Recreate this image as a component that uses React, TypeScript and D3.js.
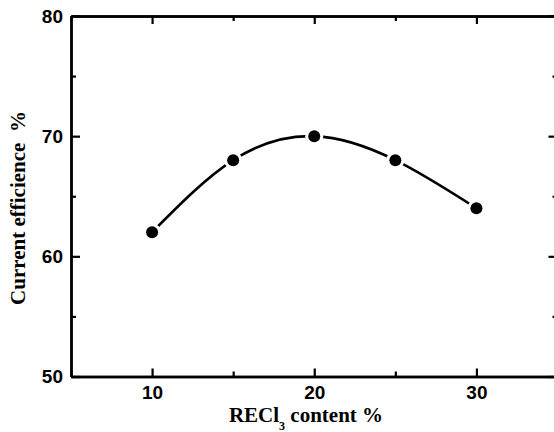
import { useRef, useEffect } from "react";
import * as d3 from "d3";

const content = [10, 15, 20, 25, 30];
const efficiency = [62, 68, 70, 68, 64];
const xMajor = [10, 20, 30];
const xMinor = [5, 15, 25, 35];
const yMajor = [50, 60, 70, 80];
const yMinor = [55, 65, 75];

const width = 554;
const height = 432;

function App() {
  const svgRef = useRef<SVGSVGElement>(null);

  useEffect(() => {
    const svg = d3.select(svgRef.current);
    svg.selectAll("*").remove();

    const x = d3.scaleLinear().domain([5, 35]).range([71, 557.5]);
    const y = d3.scaleLinear().domain([50, 80]).range([376.5, 16]);

    const x0 = x(5);
    const x1 = x(35);
    const y0 = y(50);
    const y1 = y(80);

    const styleAxis = (g: any) => {
      g.select(".domain").attr("stroke-width", 2.4);
      g.selectAll(".tick line").attr("stroke-width", 2.2);
      g.selectAll(".tick text")
        .attr("font-family", "'Liberation Sans', Arial, sans-serif")
        .attr("font-weight", "bold")
        .attr("font-size", 19)
        .attr("fill", "#000");
    };

    // bottom
    svg
      .append("g")
      .attr("transform", `translate(0,${y0})`)
      .call(d3.axisBottom(x).tickValues(xMajor).tickSizeInner(-8).tickSizeOuter(0).tickPadding(9).tickFormat(d3.format("d")))
      .call(styleAxis);
    svg
      .append("g")
      .attr("transform", `translate(0,${y0})`)
      .call(d3.axisBottom(x).tickValues(xMinor).tickSizeInner(-5).tickSizeOuter(0).tickFormat(() => ""))
      .call(styleAxis);
    // top
    svg
      .append("g")
      .attr("transform", `translate(0,${y1})`)
      .call(d3.axisTop(x).tickValues(xMajor).tickSizeInner(-8).tickSizeOuter(0).tickFormat(() => ""))
      .call(styleAxis);
    svg
      .append("g")
      .attr("transform", `translate(0,${y1})`)
      .call(d3.axisTop(x).tickValues(xMinor).tickSizeInner(-5).tickSizeOuter(0).tickFormat(() => ""))
      .call(styleAxis);
    // left
    svg
      .append("g")
      .attr("transform", `translate(${x0},0)`)
      .call(d3.axisLeft(y).tickValues(yMajor).tickSizeInner(-9).tickSizeOuter(0).tickPadding(8).tickFormat(d3.format("d")))
      .call(styleAxis);
    svg
      .append("g")
      .attr("transform", `translate(${x0},0)`)
      .call(d3.axisLeft(y).tickValues(yMinor).tickSizeInner(-5).tickSizeOuter(0).tickFormat(() => ""))
      .call(styleAxis);
    // right
    svg
      .append("g")
      .attr("transform", `translate(${x1},0)`)
      .call(d3.axisRight(y).tickValues(yMajor).tickSizeInner(-9).tickSizeOuter(0).tickFormat(() => ""))
      .call(styleAxis);
    svg
      .append("g")
      .attr("transform", `translate(${x1},0)`)
      .call(d3.axisRight(y).tickValues(yMinor).tickSizeInner(-5).tickSizeOuter(0).tickFormat(() => ""))
      .call(styleAxis);

    const pts = content.map((c, i) => [c, efficiency[i]] as [number, number]);

    const line = d3
      .line<[number, number]>()
      .x((d) => x(d[0]))
      .y((d) => y(d[1]))
      .curve(d3.curveNatural);

    svg
      .append("path")
      .datum(pts)
      .attr("d", line)
      .attr("fill", "none")
      .attr("stroke", "#000")
      .attr("stroke-width", 2.6);

    const marks = svg.append("g").selectAll("g").data(pts).enter().append("g");
    marks
      .append("circle")
      .attr("cx", (d) => x(d[0]))
      .attr("cy", (d) => y(d[1]))
      .attr("r", 9)
      .attr("fill", "#fff");
    marks
      .append("circle")
      .attr("cx", (d) => x(d[0]))
      .attr("cy", (d) => y(d[1]))
      .attr("r", 6)
      .attr("fill", "#000");

    // axis titles
    const xt = svg
      .append("text")
      .attr("x", 306)
      .attr("y", 422)
      .attr("text-anchor", "middle")
      .attr("font-family", "'Liberation Serif', 'Times New Roman', serif")
      .attr("font-weight", "bold")
      .attr("font-size", 21)
      .attr("fill", "#000");
    xt.append("tspan").text("RECl");
    xt.append("tspan").attr("font-size", 12).attr("dy", 8).text("3");
    xt.append("tspan").attr("dy", -8).text(" content %");

    svg
      .append("text")
      .attr("transform", "translate(25,208) rotate(-90)")
      .attr("text-anchor", "middle")
      .attr("font-family", "'Liberation Serif', 'Times New Roman', serif")
      .attr("font-weight", "bold")
      .attr("font-size", 21)
      .attr("fill", "#000")
      .attr("xml:space", "preserve")
      .text("Current efficience  %");
  }, []);

  return (
    <svg
      ref={svgRef}
      width={width}
      height={height}
      style={{ position: "absolute", left: 0, top: 0, background: "#fff" }}
    />
  );
}

export default App;
